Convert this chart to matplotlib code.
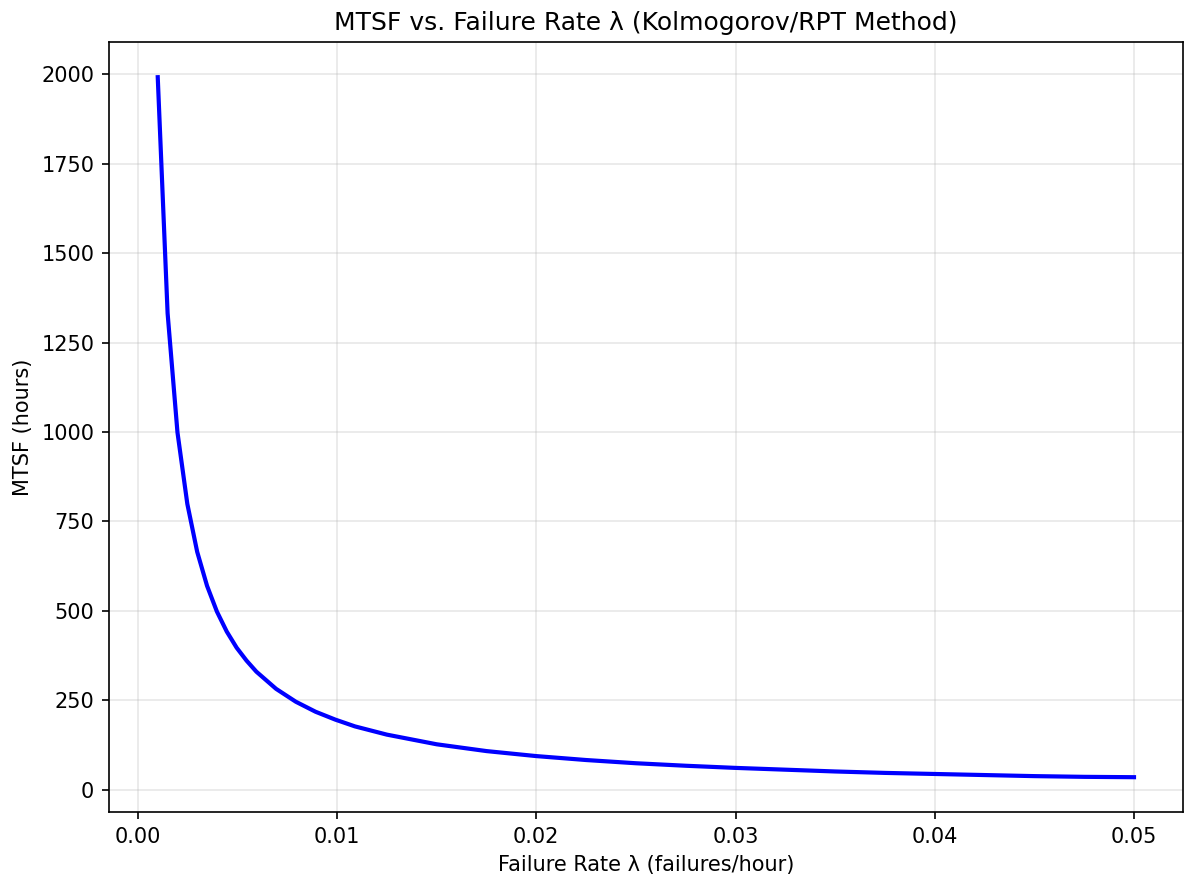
import matplotlib
matplotlib.use("Agg")
import matplotlib.pyplot as plt

# failure rate (failures/hour) and MTSF (hours)
failure_rate = [0.00100, 0.001495, 0.00199, 0.002485, 0.00298, 0.003475, 0.00397,
                0.004465, 0.00496, 0.005455, 0.00595, 0.00694, 0.00793, 0.00892,
                0.00991, 0.0109, 0.0125, 0.015, 0.0175, 0.02, 0.0225, 0.025,
                0.0275, 0.03, 0.0325, 0.035, 0.0375, 0.04, 0.0425, 0.045,
                0.0475, 0.05]
mtsf = [1992, 1332, 999, 799, 665, 570, 498,
        442, 397, 361, 330, 282, 246, 218,
        196, 177, 154, 127, 108, 94, 83, 74,
        67, 61, 56, 51, 47, 44, 41, 38,
        36, 35]

fig, ax = plt.subplots(figsize=(1184 / 150, 879 / 150), dpi=150)
ax.plot(failure_rate, mtsf, color="blue", linewidth=2)
ax.set_title("MTSF vs. Failure Rate λ (Kolmogorov/RPT Method)", fontsize=12)
ax.set_xlabel("Failure Rate λ (failures/hour)")
ax.set_ylabel("MTSF (hours)")
ax.grid(True, alpha=0.3)
fig.subplots_adjust(left=0.092, right=0.999, top=0.952, bottom=0.076)
fig.savefig("out.png")
